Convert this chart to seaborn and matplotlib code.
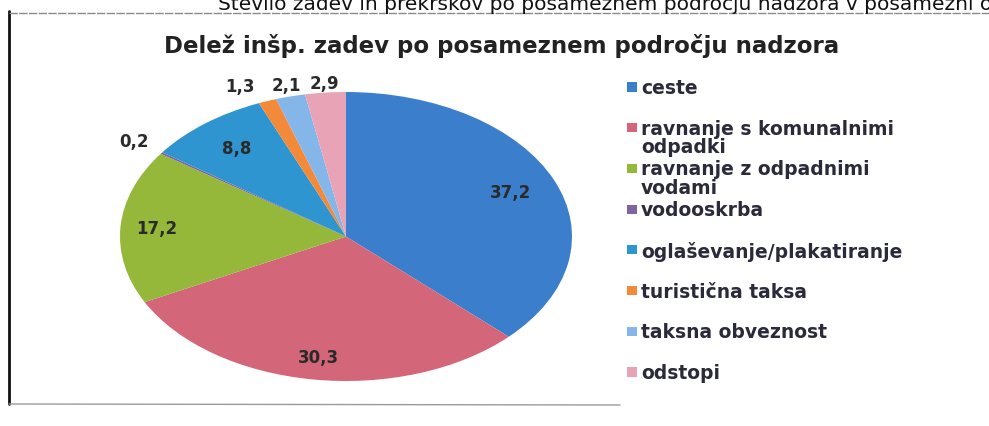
import numpy as np
import matplotlib.pyplot as plt
import seaborn as sns

# data (share of cases in %)
categories = ['ceste', 'ravnanje s komunalnimi\nodpadki', 'ravnanje z odpadnimi\nvodami',
              'vodooskrba', 'oglaševanje/plakatiranje', 'turistična taksa',
              'taksna obveznost', 'odstopi']
values = [37.2, 30.3, 17.2, 0.2, 8.8, 1.3, 2.1, 2.9]
colors = ['#3b7fcc', '#d4667a', '#95b83a', '#8064a2', '#2f95d0', '#f28a3a', '#84b6ea', '#e9a3b6']

title = 'Delež inšp. zadev po posameznem področju nadzora'
header = 'Število zadev in prekrškov po posameznem področju nadzora v posamezni o'

sns.set_theme(style='white')
plt.rcParams['font.family'] = ['DejaVu Sans']

W, H = 989, 427
fig = plt.figure(figsize=(W / 100, H / 100), dpi=100)

# overlay axes in pixel coordinates for frame, title and legend
bg = fig.add_axes([0, 0, 1, 1])
bg.set_xlim(0, W)
bg.set_ylim(H, 0)
bg.axis('off')

# scanned page header, cut at the top of the page
bg.text(992, 10, header, ha='right', va='baseline', fontsize=14.5, color='#111')

# chart frame
bg.plot([9, 9], [12, 405], color='#111', linewidth=2)
bg.plot([9, W], [14, 14], color='#8a8a8a', linewidth=1, linestyle=(0, (6, 1)))
bg.plot([9, 620], [405, 406], color='#9a9a9a', linewidth=1)

bg.text(502, 46, title, ha='center', va='center', fontsize=16.5, fontweight='bold', color='#222')

# tilted pie: wedges drawn in a stretched axes to give the ellipse
ax = fig.add_axes([120 / W, 45 / H, 452 / W, 289 / H])
wedges, _ = ax.pie(values, colors=colors, startangle=90, counterclock=False,
                   wedgeprops=dict(linewidth=0))
ax.set_aspect('auto')
ax.set_xlim(-1, 1)
ax.set_ylim(-1, 1)

# label distance from centre and small angle nudge (Excel moved crowded labels)
label_r = [0.79, 0.84, 0.84, 1.15, 0.78, 1.14, 1.08, 1.07]
label_nudge = [0, 0, 0, 0, 0, 4, 0, 0]
for w, v, r, d in zip(wedges, values, label_r, label_nudge):
    th = np.deg2rad((w.theta1 + w.theta2) / 2 + d)
    txt = f'{v:.1f}'.replace('.', ',')
    ax.text(r * np.cos(th), r * np.sin(th), txt, ha='center', va='center',
            fontsize=12, fontweight='bold', color='#2a2a2a', clip_on=False)

# legend, first lines evenly spaced like the Excel legend
ys = np.linspace(88, 373, len(categories))
for lab, c, y in zip(categories, colors, ys):
    bg.scatter([632], [y], marker='s', s=42, color=c, edgecolors='none')
    bg.text(641, y - 9, lab, ha='left', va='top', fontsize=13.5, fontweight='bold',
            color='#2a2a3a', linespacing=0.95)

fig.savefig('out.png', dpi=100)
